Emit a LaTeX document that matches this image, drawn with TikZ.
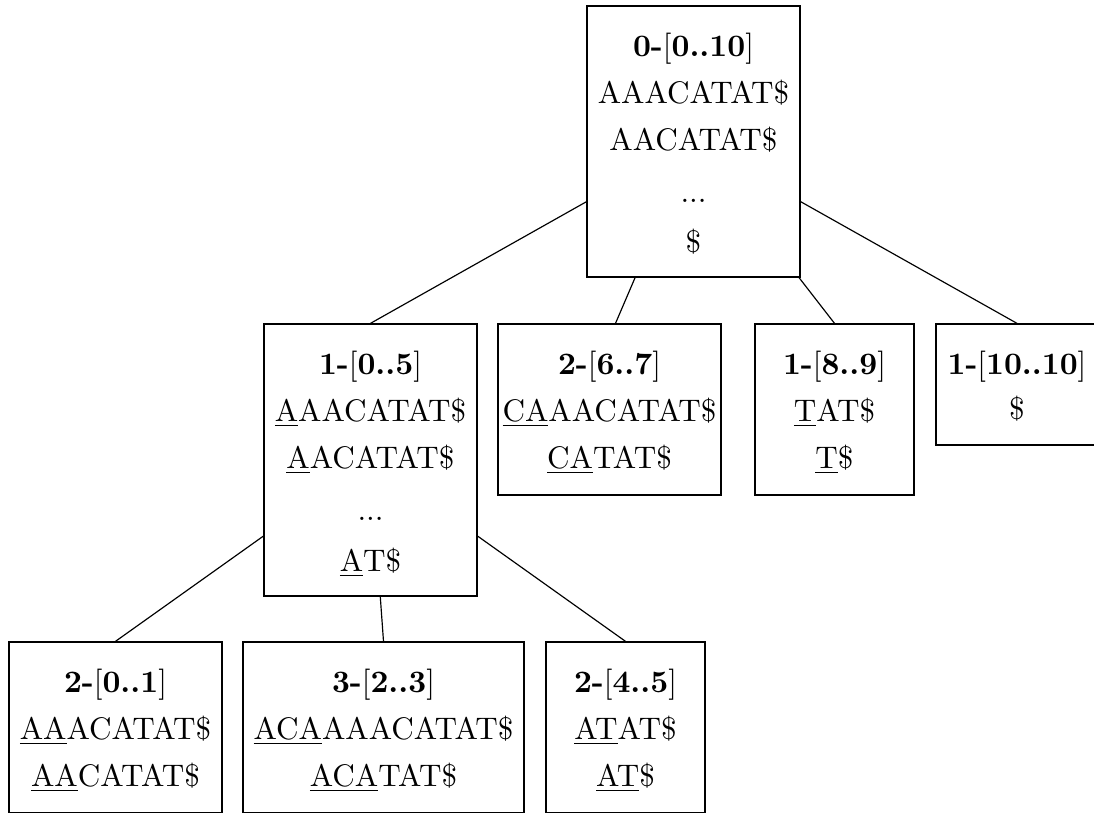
\documentclass[tikz,border=0pt]{standalone}
\begin{document}
\begin{tikzpicture}[x=0.34pt,y=-0.34pt,
  box/.style={draw,line width=0.45pt,inner sep=0pt},
  txt/.style={anchor=base,inner sep=0pt,font=\fontsize{10.6}{12}\selectfont},
  edge/.style={line width=0.4pt}]
\useasboundingbox (0,0) rectangle (1094,812);
% boxes
\node[box,minimum width=213*0.34pt,minimum height=271*0.34pt] (root) at (693.5,141.5) {};
\node[box,minimum width=213*0.34pt,minimum height=272*0.34pt] (n05) at (370.5,460) {};
\node[box,minimum width=223*0.34pt,minimum height=171*0.34pt] (n67) at (609.5,409.5) {};
\node[box,minimum width=159*0.34pt,minimum height=171*0.34pt] (n89) at (834.5,409.5) {};
\node[box,minimum width=162*0.34pt,minimum height=121*0.34pt] (n1010) at (1017,384.5) {};
\node[box,minimum width=213*0.34pt,minimum height=171*0.34pt] (n01) at (115.5,727.5) {};
\node[box,minimum width=281*0.34pt,minimum height=171*0.34pt] (n23) at (383.5,727.5) {};
\node[box,minimum width=159*0.34pt,minimum height=171*0.34pt] (n45) at (625.5,727.5) {};
% edges
\draw[edge] (root) -- (n05.north);
\draw[edge] (root) -- ([xshift=6*0.34pt]n67.north);
\draw[edge] (root) -- (n89.north);
\draw[edge] (root) -- (n1010.north);
\draw[edge] (n05) -- (n01.north);
\draw[edge] (n05) -- (n23.north);
\draw[edge] (n05) -- (n45.north);
% texts root
\node[txt] (root-a) at (693.5,56) {\textbf{0-}[\textbf{0..10}]};
\node[txt] (root-b) at (693.5,103) {AAACATAT\$};
\node[txt] (root-c) at (693.5,150) {AACATAT\$};
\node[txt] (root-d) at (693.5,202) {...};
\node[txt] (root-e) at (693.5,252) {\$};
% n05
\node[txt] (n05-a) at (370.5,374) {\textbf{1-}[\textbf{0..5}]};
\node[txt] (n05-b) at (370.5,421) {\underline{A}AACATAT\$};
\node[txt] (n05-c) at (370.5,468) {\underline{A}ACATAT\$};
\node[txt] (n05-d) at (370.5,520) {...};
\node[txt] (n05-e) at (370.5,571) {\underline{A}T\$};
% n67
\node[txt] (n67-a) at (609.5,374) {\textbf{2-}[\textbf{6..7}]};
\node[txt] (n67-b) at (609.5,421) {\underline{CA}AACATAT\$};
\node[txt] (n67-c) at (609.5,468) {\underline{CA}TAT\$};
% n89
\node[txt] (n89-a) at (834.5,374) {\textbf{1-}[\textbf{8..9}]};
\node[txt] (n89-b) at (834.5,421) {\underline{T}AT\$};
\node[txt] (n89-c) at (834.5,468) {\underline{T}\$};
% n1010
\node[txt] (n1010-a) at (1017,374) {\textbf{1-}[\textbf{10..10}]};
\node[txt] (n1010-b) at (1017,419) {\$};
% n01
\node[txt] (n01-a) at (115.5,692) {\textbf{2-}[\textbf{0..1}]};
\node[txt] (n01-b) at (115.5,739) {\underline{AA}ACATAT\$};
\node[txt] (n01-c) at (115.5,786) {\underline{AA}CATAT\$};
% n23
\node[txt] (n23-a) at (383.5,692) {\textbf{3-}[\textbf{2..3}]};
\node[txt] (n23-b) at (383.5,739) {\underline{ACA}AAACATAT\$};
\node[txt] (n23-c) at (383.5,786) {\underline{ACA}TAT\$};
% n45
\node[txt] (n45-a) at (625.5,692) {\textbf{2-}[\textbf{4..5}]};
\node[txt] (n45-b) at (625.5,739) {\underline{AT}AT\$};
\node[txt] (n45-c) at (625.5,786) {\underline{AT}\$};
\end{tikzpicture}
\end{document}
